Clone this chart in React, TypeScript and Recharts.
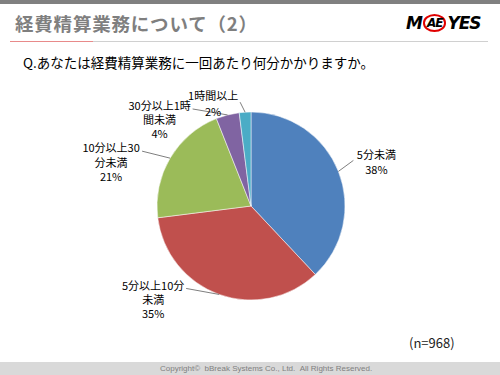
import { PieChart, Pie, Cell } from 'recharts';

const categories = ['5分未満', '5分以上10分未満', '10分以上30分未満', '30分以上1時間未満', '1時間以上'];
const shares = [38, 35, 21, 4, 2];
// how each label wraps, as in the slide
const labelLines = [
  ['5分未満'],
  ['5分以上10分', '未満'],
  ['10分以上30', '分未満'],
  ['30分以上1時', '間未満'],
  ['1時間以上'],
];
const COLORS = ['#4F81BD', '#C0504D', '#9BBB59', '#8064A2', '#4BACC6'];

const FONT = '"Noto Sans CJK JP", "Noto Sans", sans-serif';
const RAD = Math.PI / 180;

// label placement relative to the slice edge: elbow point and text centre/baseline
const LABEL_POS = [
  { ex: 15, ey: -11, tx: 38, ty: -12, gap: 15 },
  { ex: -33, ey: -6, tx: -66, ty: -4, gap: 14 },
  { ex: -28, ey: -7, tx: -59, ty: -6, gap: 14.5 },
  { ex: -35, ey: -6, tx: -68, ty: -5, gap: 14 },
  { ex: -5, ey: -10, tx: -32, ty: -12, gap: 16 },
];

const data = categories.map((name, i) => ({ name, value: shares[i] }));

function renderLabel(props: any) {
  const { cx, cy, midAngle, outerRadius, index, value } = props;
  const px = cx + outerRadius * Math.cos(-midAngle * RAD);
  const py = cy + outerRadius * Math.sin(-midAngle * RAD);
  const p = LABEL_POS[index];
  const lines = [...labelLines[index], `${value}%`];
  return (
    <g key={`lab-${index}`}>
      <line x1={px} y1={py} x2={px + p.ex} y2={py + p.ey} stroke="#7f7f7f" strokeWidth={1} />
      {lines.map((l, k) => (
        <text
          key={k}
          x={px + p.tx}
          y={py + p.ty + k * p.gap}
          textAnchor="middle"
          fontFamily={FONT}
          fontSize={11}
          fill="#000"
        >
          {l}
        </text>
      ))}
    </g>
  );
}

export default function App() {
  return (
    <div
      style={{
        position: 'absolute',
        left: 0,
        top: 0,
        width: 500,
        height: 375,
        background: '#fff',
        fontFamily: FONT,
        overflow: 'hidden',
      }}
    >
      {/* top strip */}
      <div style={{ position: 'absolute', left: 0, top: 0, width: 500, height: 4, background: '#808080' }} />

      {/* title */}
      <div
        style={{
          position: 'absolute',
          left: 15,
          top: 10,
          fontSize: 18.5,
          fontWeight: 600,
          color: '#7f7f7f',
          letterSpacing: 0.8,
        }}
      >
        経費精算業務について（2）
      </div>
      <div style={{ position: 'absolute', left: 10, top: 41, width: 478, height: 1, background: '#d0d0d0' }} />
      <div style={{ position: 'absolute', left: 10, top: 41, width: 83, height: 1, background: '#e88a8a' }} />

      {/* logo */}
      <div
        style={{
          position: 'absolute',
          left: 406,
          top: 13,
          fontSize: 17,
          fontWeight: 900,
          fontStyle: 'italic',
          color: '#000',
          fontFamily: '"DejaVu Sans", sans-serif',
          letterSpacing: -1,
          display: 'flex',
          alignItems: 'center',
        }}
      >
        <span>M</span>
        <span
          style={{
            display: 'inline-block',
            border: '2px solid #e00000',
            borderRadius: '50%',
            padding: '0 2px',
            fontSize: 12,
            lineHeight: '14px',
            margin: '0 1px',
          }}
        >
          AE
        </span>
        <span>YES</span>
      </div>

      {/* question */}
      <div style={{ position: 'absolute', left: 23, top: 52, fontSize: 13.5, color: '#000' }}>
        Q.あなたは経費精算業務に一回あたり何分かかりますか。
      </div>

      <div style={{ position: 'absolute', left: 0, top: 0 }}>
        <PieChart width={500} height={375} margin={{ top: 0, right: 0, bottom: 0, left: 0 }}>
          <Pie
            data={data}
            dataKey="value"
            nameKey="name"
            cx={251}
            cy={206}
            outerRadius={94}
            startAngle={90}
            endAngle={-270}
            stroke="#fff"
            strokeWidth={0.5}
            label={renderLabel}
            labelLine={false}
            isAnimationActive={false}
          >
            {data.map((_, i) => (
              <Cell key={i} fill={COLORS[i]} />
            ))}
          </Pie>
        </PieChart>
      </div>

      <div style={{ position: 'absolute', left: 409, top: 333, fontSize: 13, color: '#222' }}>(n=968)</div>

      {/* footer */}
      <div
        style={{
          position: 'absolute',
          left: 0,
          top: 362,
          width: 500,
          height: 13,
          background: '#d9d9d9',
        }}
      />
      <div
        style={{
          position: 'absolute',
          left: 160,
          top: 362,
          height: 13,
          color: '#808080',
          fontSize: 8,
          lineHeight: '13px',
          whiteSpace: 'nowrap',
          fontFamily: '"Liberation Sans", sans-serif',
        }}
      >
        Copyright©&nbsp;&nbsp;bBreak Systems Co., Ltd.&nbsp;&nbsp;All Rights Reserved.
      </div>
    </div>
  );
}
